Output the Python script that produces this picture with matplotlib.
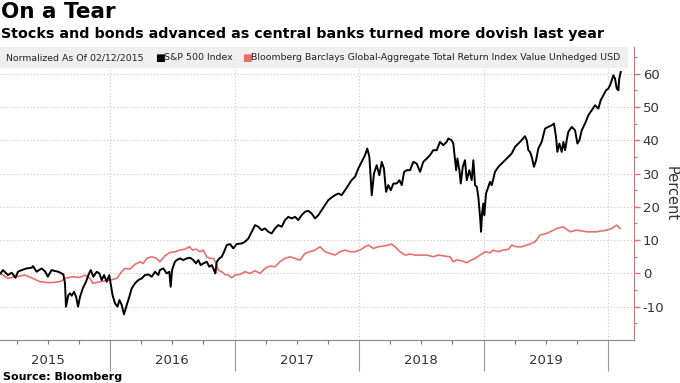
import numpy as np
import matplotlib
matplotlib.use("Agg")
import matplotlib.pyplot as plt
from matplotlib.patches import Rectangle
from matplotlib.ticker import FixedLocator, NullFormatter

plt.rcParams["axes.unicode_minus"] = False

# -------------------------------
# Data (% change since 02/12/2015)
# -------------------------------
sp_years = [
    2015.12, 2015.14, 2015.18, 2015.21, 2015.24, 2015.26, 2015.29, 2015.33, 2015.37, 2015.38,
    2015.41, 2015.45, 2015.48, 2015.50, 2015.53, 2015.56, 2015.585, 2015.625, 2015.638, 2015.646,
    2015.665, 2015.679, 2015.692, 2015.711, 2015.727, 2015.743, 2015.759, 2015.781, 2015.807, 2015.826,
    2015.845, 2015.866, 2015.893, 2015.914, 2015.933, 2015.952, 2015.973, 2015.994, 2016.00, 2016.02,
    2016.04, 2016.06, 2016.075, 2016.094, 2016.112, 2016.134, 2016.155, 2016.174, 2016.20, 2016.227,
    2016.255, 2016.28, 2016.308, 2016.335, 2016.361, 2016.388, 2016.40, 2016.428, 2016.455, 2016.476,
    2016.487, 2016.498, 2016.521, 2016.536, 2016.562, 2016.589, 2016.616, 2016.643, 2016.669, 2016.69,
    2016.709, 2016.728, 2016.749, 2016.777, 2016.797, 2016.817, 2016.835, 2016.846, 2016.857, 2016.878,
    2016.897, 2016.916, 2016.937, 2016.964, 2016.99, 2017.017, 2017.057, 2017.084, 2017.111, 2017.138,
    2017.165, 2017.191, 2017.218, 2017.245, 2017.271, 2017.298, 2017.325, 2017.351, 2017.379, 2017.405,
    2017.432, 2017.459, 2017.486, 2017.512, 2017.539, 2017.566, 2017.592, 2017.62, 2017.646, 2017.673,
    2017.70, 2017.727, 2017.753, 2017.78, 2017.807, 2017.834, 2017.86, 2017.888, 2017.914, 2017.94,
    2017.968, 2017.994, 2018.021, 2018.048, 2018.066, 2018.083, 2018.102, 2018.12, 2018.142, 2018.163,
    2018.182, 2018.20, 2018.217, 2018.235, 2018.255, 2018.276, 2018.303, 2018.324, 2018.343, 2018.362,
    2018.383, 2018.41, 2018.436, 2018.463, 2018.49, 2018.516, 2018.544, 2018.57, 2018.596, 2018.624,
    2018.65, 2018.677, 2018.704, 2018.717, 2018.744, 2018.757, 2018.771, 2018.78, 2018.79, 2018.806,
    2018.817, 2018.833, 2018.851, 2018.865, 2018.886, 2018.905, 2018.918, 2018.932, 2018.946, 2018.958,
    2018.972, 2018.98, 2018.988, 2018.998, 2019.006, 2019.02, 2019.038, 2019.052, 2019.066, 2019.092,
    2019.119, 2019.146, 2019.172, 2019.199, 2019.226, 2019.253, 2019.28, 2019.306, 2019.333, 2019.347,
    2019.36, 2019.373, 2019.387, 2019.405, 2019.422, 2019.44, 2019.467, 2019.494, 2019.52, 2019.548,
    2019.566, 2019.582, 2019.593, 2019.609, 2019.628, 2019.641, 2019.655, 2019.668, 2019.681, 2019.708,
    2019.735, 2019.754, 2019.77, 2019.789, 2019.815, 2019.842, 2019.869, 2019.896, 2019.922, 2019.941,
    2019.962, 2019.984, 2020.002, 2020.016, 2020.03, 2020.043, 2020.056, 2020.07, 2020.083, 2020.09,
    2020.102,
]
sp_values = [
    0.0, 1.0, -0.5, 0.2, -1.3, 0.5, 1.0, 1.5, 1.7, 2.2,
    0.5, 1.5, 0.5, -1.0, 1.0, 0.7, 0.5, -0.3, -3.0, -10.0,
    -6.5, -6.0, -6.7, -5.5, -7.0, -10.0, -7.0, -4.5, -2.5, -0.5,
    1.0, -1.0, 0.5, 0.0, -2.0, -0.5, -2.5, -0.5, -2.0, -6.5,
    -9.0, -10.0, -8.0, -9.5, -12.3, -9.5, -7.0, -4.5, -3.0, -2.0,
    -1.5, -0.5, -0.3, -1.0, 0.5, -0.5, 1.0, 1.5, 0.0, 0.5,
    -4.0, 1.0, 3.5, 4.0, 4.5, 4.0, 4.5, 4.7, 4.0, 3.0,
    4.0, 2.5, 3.0, 3.5, 2.0, 2.5, 1.0, 0.0, 3.5, 4.5,
    5.0, 6.5, 8.5, 8.8, 7.5, 8.8, 9.0, 9.5, 10.5, 12.5,
    14.5, 14.0, 13.0, 13.5, 12.5, 12.0, 13.5, 14.5, 14.0, 16.0,
    17.0, 16.5, 17.0, 16.0, 17.5, 18.5, 18.8, 18.0, 16.5, 17.5,
    19.0, 20.5, 22.0, 22.8, 23.5, 24.0, 23.5, 25.0, 26.5, 28.0,
    29.0, 31.5, 33.5, 35.5, 37.5, 35.0, 23.5, 30.0, 32.5, 29.5,
    33.5, 31.5, 24.5, 26.5, 25.0, 27.0, 27.0, 28.0, 26.5, 30.5,
    31.0, 31.0, 33.5, 33.0, 30.5, 33.5, 34.5, 35.5, 37.0, 37.0,
    39.5, 38.5, 39.5, 40.5, 40.0, 39.0, 34.0, 31.0, 34.5, 31.0,
    27.0, 32.0, 34.0, 28.0, 31.0, 28.0, 34.0, 26.5, 26.0, 23.0,
    17.0, 12.5, 18.0, 21.0, 17.5, 24.0, 26.0, 27.5, 26.5, 30.5,
    32.0, 33.0, 34.0, 35.0, 36.0, 38.0, 39.0, 40.0, 41.2, 40.0,
    37.0, 36.5, 35.0, 32.0, 34.0, 37.5, 39.5, 43.5, 44.0, 44.5,
    45.0, 41.0, 36.5, 39.0, 36.5, 39.5, 37.0, 40.0, 42.5, 44.0,
    43.0, 39.0, 40.0, 43.0, 45.0, 47.5, 49.0, 50.5, 49.5, 52.0,
    53.5, 55.0, 55.5, 56.5, 58.0, 59.5, 58.5, 55.5, 55.0, 58.5,
    60.5,
]

bond_years = [
    2015.12, 2015.18, 2015.24, 2015.317, 2015.381, 2015.438, 2015.518, 2015.598, 2015.638, 2015.695,
    2015.759, 2015.799, 2015.839, 2015.863, 2015.92, 2016.0, 2016.054, 2016.094, 2016.12, 2016.16,
    2016.20, 2016.241, 2016.268, 2016.295, 2016.335, 2016.375, 2016.40, 2016.442, 2016.482, 2016.522,
    2016.562, 2016.602, 2016.637, 2016.664, 2016.69, 2016.723, 2016.749, 2016.777, 2016.803, 2016.83,
    2016.851, 2016.87, 2016.897, 2016.924, 2016.95, 2016.978, 2017.004, 2017.044, 2017.084, 2017.124,
    2017.165, 2017.205, 2017.245, 2017.285, 2017.325, 2017.365, 2017.405, 2017.446, 2017.486, 2017.526,
    2017.566, 2017.606, 2017.646, 2017.687, 2017.727, 2017.767, 2017.807, 2017.847, 2017.888, 2017.928,
    2017.968, 2018.008, 2018.048, 2018.075, 2018.115, 2018.155, 2018.195, 2018.235, 2018.263, 2018.289,
    2018.33, 2018.37, 2018.41, 2018.45, 2018.49, 2018.544, 2018.597, 2018.637, 2018.691, 2018.731,
    2018.757, 2018.785, 2018.825, 2018.865, 2018.892, 2018.932, 2018.972, 2019.012, 2019.052, 2019.078,
    2019.119, 2019.159, 2019.199, 2019.226, 2019.266, 2019.306, 2019.347, 2019.373, 2019.414, 2019.454,
    2019.508, 2019.588, 2019.641, 2019.695, 2019.749, 2019.829, 2019.91, 2019.99, 2020.03, 2020.07,
    2020.096,
]
bond_values = [
    0.0, -1.5, -1.0, -0.5, -1.5, -2.5, -2.8, -2.5, -1.5, -1.0,
    -1.2, -0.5, -1.5, -3.0, -2.5, -2.0, -1.5, 0.5, 1.5, 1.3,
    2.7, 3.5, 3.0, 4.5, 5.0, 4.5, 3.5, 5.3, 6.3, 6.5,
    7.0, 7.3, 8.0, 7.0, 7.3, 6.5, 7.0, 5.0, 4.5, 4.5,
    3.0, 1.0, 0.5, -0.3, -0.5, -1.3, -0.5, -0.3, 0.5, 0.0,
    0.8, 0.0, 1.5, 2.2, 2.0, 3.5, 4.5, 5.0, 4.5, 4.0,
    6.0, 6.5, 7.0, 8.0, 6.5, 6.0, 5.5, 6.5, 7.0, 6.5,
    6.5, 7.0, 8.0, 8.5, 7.5, 8.0, 8.2, 8.5, 8.8, 8.0,
    6.5, 5.5, 5.8, 5.5, 5.5, 5.5, 5.0, 5.5, 5.2, 5.0,
    3.5, 4.0, 3.8, 3.2, 3.8, 4.5, 5.5, 6.5, 6.2, 7.0,
    6.5, 7.0, 7.2, 8.5, 8.0, 8.0, 8.5, 8.8, 9.5, 11.5,
    12.0, 13.5, 14.0, 12.5, 13.0, 12.5, 12.5, 13.0, 13.5, 14.5,
    13.5,
]

year_labels = ["2015", "2016", "2017", "2018", "2019"]
year_bounds = [2016, 2017, 2018, 2019, 2020]
x_start, x_end = 2015.116, 2020.211

BLACK = "#000000"
RED = "#e8706c"
GRID = "#c8c8c8"
TEXT = "#333333"

# -------------------------------
# Figure
# -------------------------------
fig = plt.figure(figsize=(6.8, 3.83), dpi=100)
ax = fig.add_axes([0.0, 0.1123, 0.9328, 0.7650])

ax.plot(bond_years, bond_values, color=RED, linewidth=1.2, zorder=3)
ax.plot(sp_years, sp_values, color=BLACK, linewidth=1.4, zorder=4)

ax.set_xlim(x_start, x_end)
ax.set_ylim(-20, 68)

# y axis on the right, red spine
ax.yaxis.tick_right()
ax.yaxis.set_major_locator(FixedLocator([-10, 0, 10, 20, 30, 40, 50, 60]))
ax.yaxis.set_minor_locator(FixedLocator([-15, -5, 5, 15, 25, 35, 45, 55, 65]))
ax.tick_params(axis="y", which="major", colors=RED, length=4, width=1,
               labelcolor=TEXT, labelsize=9.5, pad=2)
ax.tick_params(axis="y", which="minor", colors=RED, length=2, width=0.8)
ax.text(1.058, 0.5, "Percent", transform=ax.transAxes, rotation=270,
        ha="center", va="center", fontsize=10.5, color=TEXT)

# x axis: long year separators, quarter minor ticks
ax.xaxis.set_major_locator(FixedLocator(year_bounds))
ax.xaxis.set_major_formatter(NullFormatter())
qticks = [y + q for y in [2015, 2016, 2017, 2018, 2019, 2020] for q in (0.25, 0.5, 0.75)]
ax.xaxis.set_minor_locator(FixedLocator([q for q in qticks if x_start < q < x_end]))
ax.tick_params(axis="x", which="major", length=22, width=0.8, colors="#999999")
ax.tick_params(axis="x", which="minor", length=3, width=0.8, colors="#777777")

for x, lab in zip(year_bounds, year_labels):
    ax.text(x - 0.5, -0.07, lab, transform=ax.get_xaxis_transform(),
            ha="center", va="center", fontsize=9.5, color=TEXT)

ax.grid(True, which="major", linestyle=(0, (1, 2)), color=GRID, linewidth=0.8)
for s in ["left", "top"]:
    ax.spines[s].set_visible(False)
ax.spines["right"].set_color(RED)
ax.spines["bottom"].set_color("#888888")

# -------------------------------
# Legend strip
# -------------------------------
fig.patches.append(Rectangle((0.0, 1 - 68 / 383), 628 / 680, 21 / 383,
                             transform=fig.transFigure, facecolor="#eeeeee",
                             edgecolor="none", alpha=0.9, zorder=5))
ly = 1 - 58 / 383
legend_font = dict(fontsize=6.75, color="#222222", va="center", zorder=6)
fig.text(6 / 680, ly, "Normalized As Of 02/12/2015", **legend_font)
fig.text(155 / 680, ly, "■", fontsize=7.5, color=BLACK, va="center", zorder=6)
fig.text(164 / 680, ly, "S&P 500 Index", **legend_font)
fig.text(242 / 680, ly, "■", fontsize=7.5, color="#f06a6a", va="center", zorder=6)
fig.text(251 / 680, ly,
         "Bloomberg Barclays Global-Aggregate Total Return Index Value Unhedged USD",
         **legend_font)

# -------------------------------
# Titles and source
# -------------------------------
fig.text(0.002, 1 - 12 / 383, "On a Tear", fontsize=15.5, fontweight="bold",
         color="#000000", va="center")
fig.text(0.002, 1 - 34 / 383,
         "Stocks and bonds advanced as central banks turned more dovish last year",
         fontsize=10.3, fontweight="bold", color="#000000", va="center")
fig.text(0.004, 1 - 377 / 383, "Source: Bloomberg", fontsize=8, fontweight="bold",
         color="#000000", va="center")

fig.savefig("out.png", dpi=100)
